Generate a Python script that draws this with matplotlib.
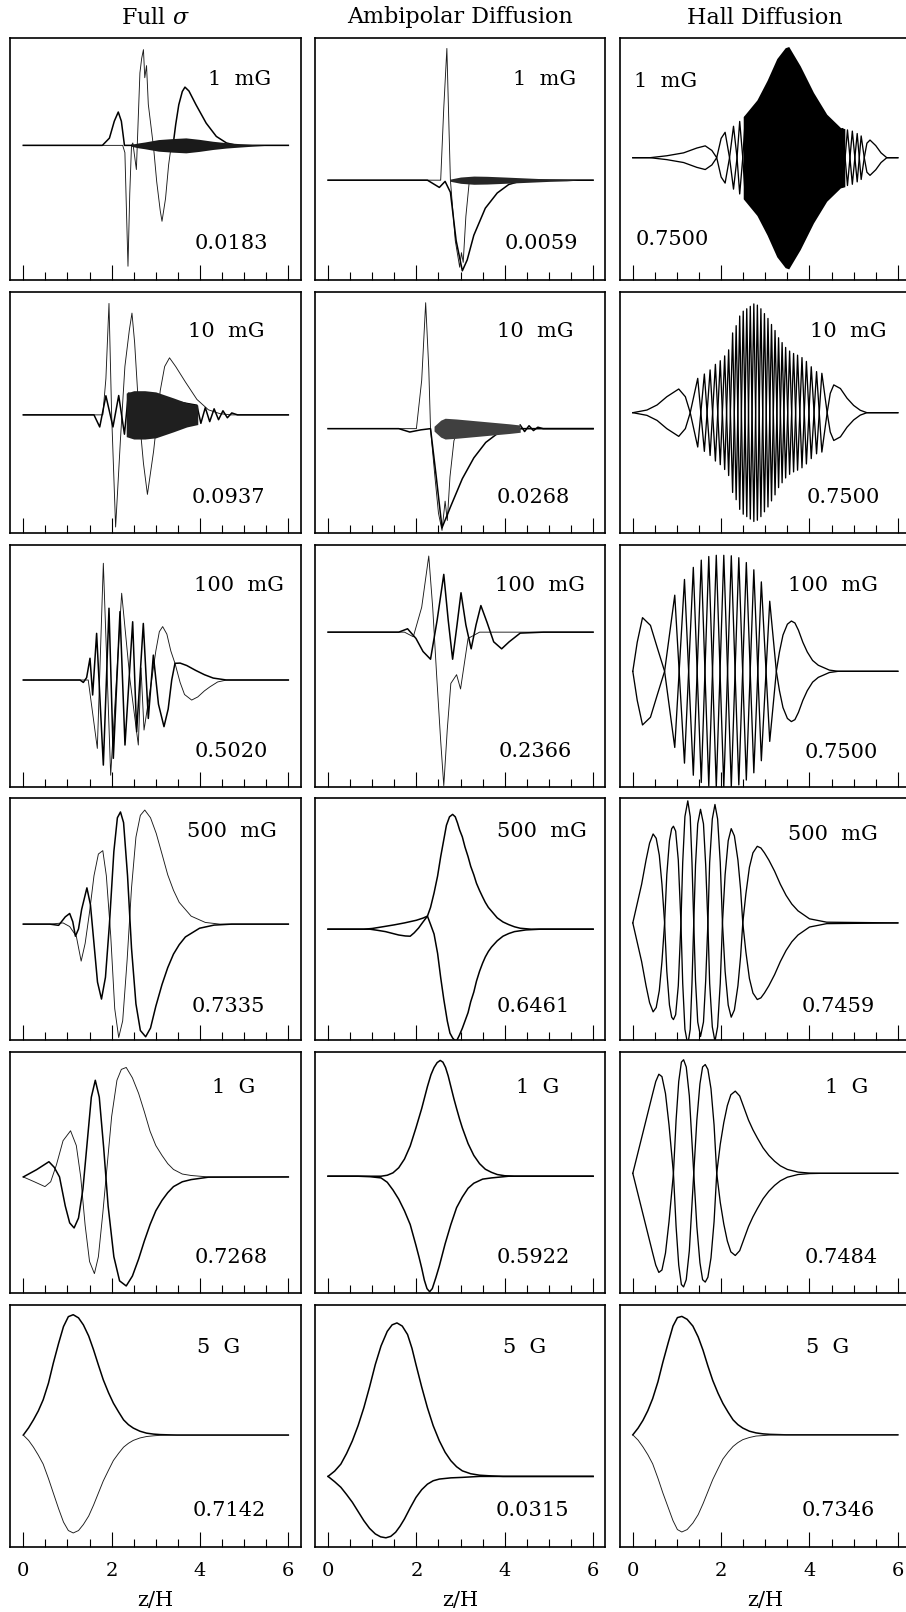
"""
Grid of mode profiles (6 field strengths x 3 diffusion regimes) versus z/H.

Each panel shows the two field components of the fastest growing mode,
the field strength and the growth rate.  Values were read off the
published figure, in units of the panel height above the midplane line.
"""
import matplotlib
matplotlib.use('Agg')  # Use non-interactive backend for script execution
import matplotlib.pyplot as plt
from matplotlib.ticker import MultipleLocator


COLUMN_TITLES = ["Full $\\sigma$", "Ambipolar Diffusion", "Hall Diffusion"]
FIELD_LABELS = ["1 mG", "10 mG", "100 mG", "500 mG", "1 G", "5 G"]
GROWTH_RATES = [
    ["0.0183", "0.0059", "0.7500"],
    ["0.0937", "0.0268", "0.7500"],
    ["0.5020", "0.2366", "0.7500"],
    ["0.7335", "0.6461", "0.7459"],
    ["0.7268", "0.5922", "0.7484"],
    ["0.7142", "0.0315", "0.7346"],
]
X_TICKS = [0, 2, 4, 6]

# ---- 1 mG ----
full_1mg_a_z = [0, 1.79, 1.95, 2.06, 2.15, 2.22, 2.29, 3.39, 3.45, 3.52, 3.6, 3.66, 3.75, 3.91, 4.14, 4.37, 4.6, 4.83, 6.0]
full_1mg_a_v = [0, 0, 0.03, 0.1, 0.138, 0.1, 0.0, 0.0, 0.086, 0.168, 0.223, 0.241, 0.225, 0.168, 0.092, 0.037, 0.01, 0, 0]
full_1mg_b_z = [0, 2.25, 2.3, 2.34, 2.37, 2.41, 2.45, 2.48, 2.56, 2.64, 2.68, 2.72, 2.75, 2.79, 2.83, 2.95, 3.02, 3.1, 3.14, 3.22, 3.29, 3.35, 6.0]
full_1mg_b_v = [0, 0, -0.03, -0.3, -0.5, -0.2, 0.0, 0.01, -0.1, 0.3, 0.36, 0.396, 0.28, 0.33, 0.17, -0.01, -0.15, -0.27, -0.314, -0.22, -0.08, 0, 0]
full_1mg_band_z = [2.45, 2.6, 2.75, 3.06, 3.37, 3.68, 3.98, 4.29, 4.6, 4.9, 5.22, 5.5]
full_1mg_band_amp = [0.004, 0.01, 0.014, 0.024, 0.028, 0.031, 0.025, 0.017, 0.011, 0.007, 0.003, 0.0]

amb_1mg_s_z = [0, 2.25, 2.52, 2.65, 2.77, 2.9, 3.04, 3.15, 3.3, 3.56, 3.83, 4.09, 4.35, 4.6, 6]
amb_1mg_s_v = [0, 0, -0.03, -0.005, -0.05, -0.25, -0.375, -0.33, -0.228, -0.116, -0.053, -0.018, -0.004, 0, 0]
amb_1mg_d_z = [0, 2.55, 2.62, 2.69, 2.74, 2.77, 2.88, 2.98, 3.02, 3.06, 3.12, 3.2, 6]
amb_1mg_d_v = [0, 0, 0.3, 0.545, 0.2, 0.0, -0.25, -0.36, -0.3, -0.34, -0.15, 0, 0]
amb_1mg_band_z = [2.75, 3.0, 3.3, 3.6, 4.0, 4.5, 5.0, 5.4, 5.65]
amb_1mg_band_amp = [0.004, 0.013, 0.017, 0.016, 0.013, 0.009, 0.005, 0.003, 0.0]

hall_1mg_left_z = [0, 0.39, 0.77, 1.15, 1.45, 1.64, 1.79, 1.9, 2.0, 2.09, 2.19, 2.28, 2.36, 2.42, 2.49, 2.55]
hall_1mg_left_v = [0, 0, 0.008, 0.02, 0.04, 0.049, 0.03, 0, 0.08, 0.105, 0, -0.13, 0, 0.15, 0, -0.17]
hall_1mg_right_z = [4.75, 4.86, 4.97, 5.08, 5.17, 5.24, 5.3, 5.37, 5.5, 5.62, 5.75, 6.0]
hall_1mg_right_v = [0.12, -0.115, 0.11, -0.1, 0.09, 0, -0.06, -0.073, -0.05, -0.02, 0, 0]
hall_1mg_env_z = [2.5, 2.81, 3.04, 3.26, 3.45, 3.53, 3.79, 4.09, 4.39, 4.7, 4.8]
hall_1mg_env_amp = [0.17, 0.239, 0.32, 0.41, 0.455, 0.46, 0.38, 0.27, 0.18, 0.125, 0.12]

# ---- 10 mG ----
full_10mg_d_z = [0, 1.8, 1.87, 1.94, 2.0, 2.09, 2.2, 2.3, 2.4, 2.46, 2.52, 2.62, 2.72, 2.81, 2.95, 3.1, 3.2, 3.31, 3.45, 3.67, 3.93, 4.19, 4.45, 4.7, 6]
full_10mg_d_v = [0, 0, 0.15, 0.461, 0.0, -0.464, -0.1, 0.2, 0.35, 0.421, 0.3, 0.0, -0.2, -0.329, -0.15, 0.1, 0.2, 0.236, 0.2, 0.136, 0.064, 0.021, 0.005, 0, 0]
full_10mg_s_z = [0, 1.4, 1.6, 1.73, 1.87, 2.03, 2.16, 2.29, 2.38, 3.93, 4.02, 4.12, 4.22, 4.32, 4.42, 4.52, 4.62, 4.72, 4.85, 6]
full_10mg_s_v = [0, 0, 0.0, -0.05, 0.079, -0.05, 0.08, -0.08, 0.09, 0.04, -0.035, 0.03, -0.028, 0.025, -0.02, 0.017, -0.012, 0.008, 0, 0]
full_10mg_band_z = [2.33, 2.5, 2.75, 3.0, 3.4, 3.7, 3.95]
full_10mg_band_amp = [0.09, 0.1, 0.1, 0.095, 0.07, 0.05, 0.04]

amb_10mg_d_z = [0, 2.0, 2.12, 2.21, 2.28, 2.32, 2.42, 2.5, 2.58, 2.65, 2.7, 2.76, 2.85, 2.95, 6]
amb_10mg_d_v = [0, 0, 0.2, 0.521, 0.25, 0.0, -0.2, -0.35, -0.421, -0.3, -0.38, -0.2, -0.05, 0, 0]
amb_10mg_s_z = [0, 1.6, 1.85, 2.1, 2.32, 2.45, 2.58, 2.78, 3.04, 3.3, 3.57, 3.83, 4.09, 4.4, 6]
amb_10mg_s_v = [0, 0, -0.014, -0.005, 0, -0.2, -0.41, -0.32, -0.207, -0.121, -0.057, -0.021, -0.007, 0, 0]
amb_10mg_band_z = [2.4, 2.55, 2.65, 2.9, 3.2, 3.5, 3.8, 4.1, 4.35]
amb_10mg_band_amp = [0.01, 0.035, 0.043, 0.04, 0.035, 0.03, 0.025, 0.02, 0.015]
amb_10mg_tail_z = [4.35, 4.45, 4.55, 4.65, 4.75, 4.87, 6]
amb_10mg_tail_v = [0.015, -0.012, 0.012, -0.008, 0.006, 0, 0]

hall_10mg_z = [0, 0.32, 0.55, 0.77, 1.04, 1.19, 1.3,
               1.47, 1.62, 1.75, 1.87, 1.98, 2.08, 2.17, 2.26, 2.34, 2.42, 2.5, 2.58, 2.66, 2.74, 2.82, 2.9,
               2.98, 3.06, 3.14, 3.22, 3.3, 3.38, 3.46, 3.55, 3.64, 3.73, 3.83, 3.93, 4.04, 4.16, 4.28,
               4.4, 4.47, 4.55, 4.7, 4.85, 5.0, 5.15, 5.3, 6]
hall_10mg_v = [0, 0.011, 0.032, 0.066, 0.098, 0.066, 0,
               -0.142, 0.16, -0.177, 0.2, -0.215, 0.235, -0.26, 0.33, -0.36, 0.4, -0.42, 0.43, -0.44, 0.45, -0.445, 0.43,
               -0.41, 0.39, -0.365, 0.34, -0.31, 0.29, -0.27, 0.255, -0.245, 0.238, -0.228, 0.212, -0.19, 0.17, -0.163,
               0, 0.08, 0.115, 0.1, 0.06, 0.03, 0.01, 0, 0]

# ---- 100 mG ----
full_100mg_a_z = [0, 1.283, 1.359, 1.434, 1.51, 1.57, 1.66, 1.812, 1.94, 2.038, 2.189, 2.302, 2.476, 2.566, 2.717, 2.83, 2.944, 3.06, 3.185, 3.28, 3.36, 3.434, 3.55, 3.7, 3.9, 4.1, 4.3, 4.6, 6]
full_100mg_a_v = [0, 0, -0.01, 0.01, 0.09, -0.062, 0.193, -0.352, 0.297, -0.324, 0.283, -0.269, 0.241, -0.214, 0.234, -0.159, 0.103, -0.1, -0.193, -0.12, 0.0, 0.069, 0.07, 0.06, 0.04, 0.022, 0.008, 0, 0]
full_100mg_b_z = [0, 1.47, 1.676, 1.812, 1.978, 2.227, 2.416, 2.604, 2.665, 2.733, 2.906, 3.0, 3.08, 3.155, 3.25, 3.34, 3.434, 3.55, 3.65, 3.812, 3.95, 4.1, 4.227, 4.4, 4.604, 6]
full_100mg_b_v = [0, 0, -0.283, 0.483, -0.394, 0.359, 0.0, -0.269, 0.05, -0.207, 0.0, 0.12, 0.2, 0.221, 0.19, 0.12, 0.069, -0.01, -0.06, -0.083, -0.07, -0.045, -0.028, -0.008, 0, 0]

amb_100mg_s_z = [0, 1.6, 1.8, 1.99, 2.15, 2.32, 2.47, 2.62, 2.72, 2.82, 2.92, 3.01, 3.12, 3.24, 3.35, 3.46, 3.6, 3.75, 3.93, 4.1, 4.35, 4.88, 6]
amb_100mg_s_v = [0, 0, 0.014, -0.026, -0.08, -0.112, 0.05, 0.239, 0.05, -0.112, 0.03, 0.163, 0.03, -0.069, 0.03, 0.110, 0.04, -0.04, -0.069, -0.04, -0.004, 0, 0]
amb_100mg_d_z = [0, 1.73, 1.93, 2.12, 2.28, 2.37, 2.46, 2.55, 2.62, 2.7, 2.78, 2.91, 3.0, 3.17, 3.43, 6]
amb_100mg_d_v = [0, 0, -0.019, 0.103, 0.315, 0.1, -0.183, -0.45, -0.635, -0.4, -0.212, -0.176, -0.235, -0.026, 0, 0]

hall_100mg_z = [0, 0.1, 0.22, 0.4, 0.55, 0.72, 0.95, 1.17, 1.37, 1.55, 1.72, 1.89, 2.06, 2.23, 2.4, 2.57, 2.74, 2.91, 3.1,
                3.25, 3.32, 3.4, 3.5, 3.59, 3.67, 3.75, 3.85, 3.95, 4.07, 4.2, 4.45, 4.65, 6]
hall_100mg_v = [0, 0.12, 0.222, 0.19, 0.1, 0, -0.315, 0.38, -0.43, 0.46, -0.475, 0.48, -0.48, 0.478, -0.47, 0.45, -0.42, 0.37, -0.29,
                0, 0.08, 0.15, 0.195, 0.208, 0.2, 0.17, 0.12, 0.08, 0.045, 0.025, 0.005, 0, 0]

# ---- 500 mG ----
full_500mg_s_z = [0, 0.6, 0.8, 0.95, 1.05, 1.12, 1.18, 1.25, 1.32, 1.44, 1.52, 1.6, 1.68, 1.77, 1.86, 1.95, 2.05, 2.13, 2.2, 2.27, 2.36, 2.45, 2.55, 2.65, 2.77, 2.88, 3.0, 3.14, 3.27, 3.4, 3.53, 3.67, 3.99, 4.32, 4.72, 6]
full_500mg_s_v = [0, 0, -0.005, 0.03, 0.044, 0.01, -0.05, -0.02, 0.06, 0.15, 0.08, -0.08, -0.24, -0.31, -0.22, 0.0, 0.3, 0.44, 0.464, 0.42, 0.2, -0.1, -0.33, -0.44, -0.466, -0.43, -0.34, -0.25, -0.18, -0.124, -0.085, -0.053, -0.017, -0.004, 0, 0]
full_500mg_d_z = [0, 0.6, 0.9, 1.05, 1.2, 1.31, 1.4, 1.5, 1.6, 1.7, 1.8, 1.88, 1.98, 2.07, 2.16, 2.25, 2.35, 2.45, 2.55, 2.65, 2.75, 2.88, 3.01, 3.14, 3.27, 3.4, 3.53, 3.8, 4.12, 4.45, 6]
full_500mg_d_v = [0, 0, 0.005, -0.01, -0.05, -0.153, -0.08, 0.05, 0.2, 0.29, 0.304, 0.2, -0.05, -0.35, -0.469, -0.4, -0.15, 0.15, 0.36, 0.45, 0.472, 0.44, 0.375, 0.29, 0.204, 0.14, 0.09, 0.033, 0.007, 0, 0]

amb_500mg_u_z = [0, 0.95, 1.1, 1.3, 1.45, 1.6, 1.75, 1.86, 1.95, 2.05, 2.15, 2.25, 2.32, 2.4, 2.48, 2.55, 2.62, 2.68, 2.75,
                 2.82, 2.88, 2.93, 2.98, 3.04, 3.1, 3.17, 3.23, 3.3, 3.36, 3.43, 3.5, 3.56, 3.63, 3.7, 3.83, 3.96, 4.09,
                 4.22, 4.35, 4.6, 6]
amb_500mg_u_v = [0, 0, -0.004, -0.01, -0.017, -0.024, -0.028, -0.029, -0.015, 0.005, 0.03, 0.054, 0.09, 0.15, 0.22, 0.3, 0.37, 0.43, 0.465,
                 0.475, 0.465, 0.44, 0.41, 0.382, 0.34, 0.3, 0.26, 0.225, 0.19, 0.16, 0.133, 0.111, 0.09, 0.075, 0.047, 0.03, 0.019,
                 0.01, 0.004, 0, 0]
amb_500mg_l_z = [0, 0.81, 1.0, 1.27, 1.5, 1.73, 2.0, 2.15, 2.25, 2.32, 2.4, 2.48, 2.55, 2.62, 2.7, 2.76, 2.82, 2.87, 2.91,
                 2.97, 3.04, 3.1, 3.17, 3.23, 3.3, 3.36, 3.43, 3.5, 3.56, 3.63, 3.7, 3.83, 3.96, 4.09, 4.22, 4.48, 4.8, 6]
amb_500mg_l_v = [0, 0, 0.003, 0.011, 0.018, 0.026, 0.037, 0.046, 0.054, 0.02, -0.02, -0.1, -0.2, -0.29, -0.38, -0.43, -0.45, -0.46, -0.462,
                 -0.44, -0.41, -0.38, -0.345, -0.3, -0.26, -0.215, -0.174, -0.14, -0.115, -0.092, -0.074, -0.048, -0.029, -0.018,
                 -0.01, -0.003, 0, 0]

hall_500mg_z = [0, 0.1, 0.2, 0.3, 0.38, 0.46, 0.53, 0.6, 0.66, 0.72,
                0.77, 0.83, 0.88, 0.92, 0.97, 1.03, 1.09,
                1.13, 1.18, 1.245, 1.3, 1.34, 1.38,
                1.42, 1.47, 1.533, 1.6, 1.65, 1.7,
                1.74, 1.8, 1.86, 1.92, 1.98, 2.03,
                2.09, 2.16, 2.228, 2.3, 2.38, 2.44, 2.49,
                2.56, 2.64, 2.72, 2.818, 2.9, 2.98, 3.08, 3.21, 3.34, 3.47, 3.6, 3.74, 4.0, 4.39, 6]
hall_500mg_v = [0, 0.08, 0.16, 0.26, 0.33, 0.368, 0.35, 0.28, 0.16, 0,
                -0.2, -0.34, -0.39, -0.4, -0.38, -0.26, 0,
                0.25, 0.44, 0.505, 0.44, 0.25, 0,
                -0.24, -0.41, -0.47, -0.41, -0.24, 0,
                0.25, 0.43, 0.49, 0.43, 0.25, 0,
                -0.2, -0.34, -0.39, -0.36, -0.26, -0.14, 0,
                0.12, 0.23, 0.29, 0.317, 0.31, 0.29, 0.26, 0.214, 0.16, 0.114, 0.078, 0.05, 0.017, 0.003, 0]

# ---- 1 G ----
full_1g_s_z = [0, 0.3, 0.58, 0.7, 0.82, 0.95, 1.05, 1.15, 1.25, 1.35, 1.45, 1.54, 1.63, 1.72, 1.82, 1.92, 2.05, 2.18, 2.33, 2.47, 2.61, 2.74, 2.87, 3.0, 3.14, 3.27, 3.4, 3.6, 3.8, 4.19, 6]
full_1g_s_v = [0, 0.03, 0.063, 0.04, 0.0, -0.12, -0.19, -0.211, -0.17, -0.05, 0.15, 0.33, 0.4, 0.33, 0.12, -0.12, -0.33, -0.43, -0.451, -0.41, -0.34, -0.265, -0.197, -0.14, -0.097, -0.065, -0.04, -0.02, -0.011, -0.001, 0]
full_1g_d_z = [0, 0.25, 0.49, 0.62, 0.75, 0.9, 1.07, 1.2, 1.3, 1.4, 1.5, 1.61, 1.7, 1.8, 1.9, 2.0, 2.12, 2.22, 2.33, 2.47, 2.61, 2.74, 2.87, 3.0, 3.14, 3.27, 3.4, 3.6, 3.8, 4.19, 6]
full_1g_d_v = [0, -0.02, -0.04, -0.02, 0.05, 0.15, 0.191, 0.13, 0.0, -0.2, -0.35, -0.4, -0.33, -0.15, 0.05, 0.25, 0.4, 0.445, 0.453, 0.41, 0.346, 0.27, 0.189, 0.13, 0.089, 0.055, 0.031, 0.012, 0.006, 0, 0]

amb_1g_u_z = [0, 1.2, 1.34, 1.47, 1.6, 1.73, 1.86, 1.99, 2.12, 2.25, 2.33, 2.4, 2.47, 2.54, 2.6, 2.66, 2.72, 2.78, 2.85,
              2.91, 2.98, 3.04, 3.17, 3.3, 3.43, 3.56, 3.7, 3.83, 4.0, 4.22, 6]
amb_1g_u_v = [0, 0, 0.004, 0.014, 0.035, 0.071, 0.125, 0.2, 0.28, 0.371, 0.42, 0.45, 0.47, 0.479, 0.472, 0.45, 0.415, 0.371, 0.32,
              0.28, 0.235, 0.2, 0.135, 0.086, 0.052, 0.029, 0.016, 0.007, 0.002, 0, 0]
amb_1g_l_z = [0, 0.68, 0.95, 1.2, 1.34, 1.47, 1.6, 1.73, 1.86, 1.99, 2.06, 2.12, 2.18, 2.24, 2.3, 2.36, 2.44, 2.52, 2.65,
              2.78, 2.91, 3.04, 3.17, 3.3, 3.5, 3.7, 4.09, 6]
amb_1g_l_v = [0, 0, -0.002, -0.007, -0.025, -0.057, -0.095, -0.143, -0.2, -0.286, -0.335, -0.38, -0.43, -0.465, -0.478, -0.465, -0.42, -0.371, -0.28,
              -0.2, -0.13, -0.086, -0.05, -0.029, -0.012, -0.007, 0, 0]

hall_1g_z = [0, 0.15, 0.3, 0.45, 0.52, 0.59, 0.66, 0.74, 0.82, 0.92,
             0.98, 1.04, 1.1, 1.15, 1.21, 1.28, 1.38,
             1.45, 1.52, 1.58, 1.64, 1.7, 1.77, 1.84, 1.9,
             1.98, 2.06, 2.14, 2.22, 2.32, 2.42, 2.52, 2.62, 2.72, 2.82, 2.95, 3.08, 3.21, 3.34, 3.5, 3.74, 4.0, 4.26, 6]
hall_1g_v = [0, 0.11, 0.22, 0.33, 0.38, 0.41, 0.4, 0.33, 0.2, 0,
             -0.22, -0.38, -0.46, -0.47, -0.44, -0.32, 0,
             0.22, 0.37, 0.44, 0.45, 0.43, 0.35, 0.2, 0,
             -0.12, -0.21, -0.28, -0.325, -0.34, -0.32, -0.27, -0.22, -0.18, -0.146, -0.105, -0.074, -0.05, -0.031, -0.016, -0.005, -0.001, 0, 0]

# ---- 5 G ----
full_5g_z = [0, 0.12, 0.23, 0.34, 0.45, 0.57, 0.68, 0.8, 0.91, 1.02, 1.13, 1.25, 1.36, 1.48, 1.59, 1.7, 1.81, 1.93,
             2.04, 2.16, 2.27, 2.38, 2.49, 2.64, 2.79, 2.95, 3.1, 3.47, 6]
full_5g_top = [0, 0.03, 0.063, 0.1, 0.146, 0.215, 0.298, 0.38, 0.449, 0.49, 0.498, 0.485, 0.456, 0.41, 0.353, 0.29, 0.229, 0.175,
               0.132, 0.095, 0.063, 0.043, 0.029, 0.016, 0.008, 0.004, 0.002, 0, 0]
full_5g_bot = [0, -0.022, -0.05, -0.083, -0.12, -0.18, -0.24, -0.305, -0.36, -0.395, -0.405, -0.395, -0.37, -0.335, -0.29, -0.24, -0.19, -0.145,
               -0.105, -0.075, -0.05, -0.034, -0.022, -0.012, -0.006, -0.003, -0.001, 0, 0]

amb_5g_u_z = [0, 0.15, 0.29, 0.42, 0.55, 0.68, 0.81, 0.94, 1.07, 1.2, 1.34, 1.45, 1.56, 1.68, 1.8, 1.9, 1.99, 2.12, 2.25,
              2.38, 2.52, 2.65, 2.78, 2.91, 3.04, 3.23, 3.43, 3.7, 3.96, 6]
amb_5g_u_v = [0, 0.022, 0.051, 0.095, 0.147, 0.21, 0.284, 0.37, 0.463, 0.54, 0.6, 0.627, 0.635, 0.622, 0.587, 0.53, 0.463, 0.37, 0.284,
              0.21, 0.147, 0.1, 0.065, 0.04, 0.023, 0.011, 0.005, 0.002, 0, 0]
amb_5g_l_z = [0, 0.15, 0.29, 0.42, 0.55, 0.68, 0.81, 0.94, 1.07, 1.19, 1.31, 1.42, 1.53, 1.63, 1.73, 1.86, 1.99, 2.12,
              2.25, 2.38, 2.52, 2.78, 3.04, 3.43, 6]
amb_5g_l_v = [0, -0.022, -0.045, -0.075, -0.107, -0.145, -0.183, -0.215, -0.238, -0.25, -0.254, -0.248, -0.231, -0.206, -0.176, -0.13, -0.087, -0.055,
              -0.032, -0.018, -0.011, -0.006, -0.004, 0, 0]

hall_5g_z = [0, 0.12, 0.23, 0.34, 0.45, 0.57, 0.68, 0.8, 0.91, 1.01, 1.11, 1.23, 1.36, 1.48, 1.59, 1.7, 1.81, 1.93,
             2.04, 2.16, 2.27, 2.38, 2.49, 2.64, 2.79, 2.95, 3.1, 3.47, 6]
hall_5g_top = [0, 0.028, 0.06, 0.1, 0.15, 0.22, 0.3, 0.38, 0.45, 0.485, 0.49, 0.478, 0.45, 0.405, 0.35, 0.285, 0.225, 0.172,
               0.13, 0.093, 0.062, 0.042, 0.028, 0.015, 0.008, 0.004, 0.002, 0, 0]
hall_5g_bot = [0, -0.022, -0.05, -0.082, -0.12, -0.18, -0.24, -0.3, -0.355, -0.392, -0.402, -0.392, -0.365, -0.33, -0.285, -0.235, -0.185, -0.14,
               -0.1, -0.071, -0.048, -0.032, -0.02, -0.011, -0.005, -0.003, -0.001, 0, 0]


# Layout, in pixels of the 906 x 1612 output
FIG_W, FIG_H = 906, 1612
PANEL_W, PANEL_H = 290.7, 241.7
COL_LEFT = [10, 314.75, 619.5]
ROW_TOP = [38.3 + 253.3 * r for r in range(6)]
X_LIMITS = (-0.301, 6.28)
# height of the zero line inside each panel (fraction of panel height)
BASELINE = [
    [0.557, 0.413, 0.506],
    [0.490, 0.433, 0.499],
    [0.441, 0.639, 0.477],
    [0.479, 0.458, 0.484],
    [0.481, 0.484, 0.496],
    [0.461, 0.290, 0.462],
]
FIELD_POS = [
    [(0.79, 0.83), (0.79, 0.83), (0.16, 0.82)],
    [(0.745, 0.836), (0.757, 0.836), (0.787, 0.836)],
    [(0.786, 0.83), (0.775, 0.83), (0.735, 0.83)],
    [(0.762, 0.864), (0.782, 0.864), (0.735, 0.85)],
    [(0.769, 0.853), (0.768, 0.853), (0.78, 0.853)],
    [(0.719, 0.825), (0.721, 0.825), (0.717, 0.825)],
]
RATE_POS = [
    [(0.762, 0.15), (0.778, 0.15), (0.18, 0.166)],
    [(0.751, 0.147), (0.75, 0.147), (0.77, 0.147)],
    [(0.762, 0.147), (0.757, 0.147), (0.762, 0.14)],
    [(0.751, 0.14), (0.75, 0.14), (0.752, 0.14)],
    [(0.762, 0.147), (0.753, 0.147), (0.762, 0.147)],
    [(0.755, 0.15), (0.75, 0.15), (0.752, 0.15)],
]

THICK = dict(color="black", lw=1.1)
THIN = dict(color="0.1", lw=0.65)


def build_panels():
    """Collect the curve arrays of every panel, row by row."""
    return [
        [
            {"lines": [(full_1mg_b_z, full_1mg_b_v, THIN), (full_1mg_a_z, full_1mg_a_v, THICK)],
             "bands": [(full_1mg_band_z, full_1mg_band_amp, "0.1")]},
            {"lines": [(amb_1mg_d_z, amb_1mg_d_v, THIN), (amb_1mg_s_z, amb_1mg_s_v, THICK)],
             "bands": [(amb_1mg_band_z, amb_1mg_band_amp, "0.15")]},
            {"mirror": [(hall_1mg_left_z, hall_1mg_left_v), (hall_1mg_right_z, hall_1mg_right_v)],
             "bands": [(hall_1mg_env_z, hall_1mg_env_amp, "black")]},
        ],
        [
            {"lines": [(full_10mg_d_z, full_10mg_d_v, THIN), (full_10mg_s_z, full_10mg_s_v, THICK)],
             "bands": [(full_10mg_band_z, full_10mg_band_amp, "0.12")]},
            {"lines": [(amb_10mg_d_z, amb_10mg_d_v, THIN), (amb_10mg_s_z, amb_10mg_s_v, THICK),
                       (amb_10mg_tail_z, amb_10mg_tail_v, THICK)],
             "bands": [(amb_10mg_band_z, amb_10mg_band_amp, "0.25")]},
            {"mirror": [(hall_10mg_z, hall_10mg_v)]},
        ],
        [
            {"lines": [(full_100mg_b_z, full_100mg_b_v, THIN), (full_100mg_a_z, full_100mg_a_v, THICK)]},
            {"lines": [(amb_100mg_d_z, amb_100mg_d_v, THIN), (amb_100mg_s_z, amb_100mg_s_v, THICK)]},
            {"mirror": [(hall_100mg_z, hall_100mg_v)]},
        ],
        [
            {"lines": [(full_500mg_d_z, full_500mg_d_v, THIN), (full_500mg_s_z, full_500mg_s_v, THICK)]},
            {"lines": [(amb_500mg_u_z, amb_500mg_u_v, THICK), (amb_500mg_l_z, amb_500mg_l_v, THICK)]},
            {"mirror": [(hall_500mg_z, hall_500mg_v)]},
        ],
        [
            {"lines": [(full_1g_d_z, full_1g_d_v, THIN), (full_1g_s_z, full_1g_s_v, THICK)]},
            {"lines": [(amb_1g_u_z, amb_1g_u_v, THICK), (amb_1g_l_z, amb_1g_l_v, THICK)]},
            {"mirror": [(hall_1g_z, hall_1g_v)]},
        ],
        [
            {"lines": [(full_5g_z, full_5g_top, THICK), (full_5g_z, full_5g_bot, THIN)]},
            {"lines": [(amb_5g_u_z, amb_5g_u_v, THICK), (amb_5g_l_z, amb_5g_l_v, THICK)]},
            {"lines": [(hall_5g_z, hall_5g_top, THICK), (hall_5g_z, hall_5g_bot, THIN)]},
        ],
    ]


def draw_panel(ax, panel, base, bottom_row):
    for z, amp, color in panel.get("bands", []):
        ax.fill_between(z, [-a for a in amp], amp, color=color, lw=0, zorder=3)
    for z, v, style in panel.get("lines", []):
        ax.plot(z, v, zorder=2, **style)
    for z, v in panel.get("mirror", []):
        ax.plot(z, v, color="black", lw=0.95, zorder=2)
        ax.plot(z, [-x for x in v], color="black", lw=0.95, zorder=2)

    ax.set_xlim(*X_LIMITS)
    ax.set_ylim(-base, 1 - base)
    ax.set_yticks([])
    ax.set_xticks(X_TICKS)
    ax.xaxis.set_minor_locator(MultipleLocator(0.5))
    ax.tick_params(axis="x", which="major", direction="in", length=10.8, width=0.8,
                   labelsize=14, pad=11, labelbottom=bottom_row)
    ax.tick_params(axis="x", which="minor", direction="in", length=5.8, width=0.8)
    for spine in ax.spines.values():
        spine.set_linewidth(1.2)


def main():
    plt.rcParams["font.family"] = ["DejaVu Serif"]
    plt.rcParams["mathtext.fontset"] = "dejavuserif"

    fig = plt.figure(figsize=(FIG_W / 100, FIG_H / 100), dpi=100)
    panels = build_panels()

    for r, row in enumerate(panels):
        for c, panel in enumerate(row):
            left = COL_LEFT[c] / FIG_W
            bottom = (FIG_H - ROW_TOP[r] - PANEL_H) / FIG_H
            ax = fig.add_axes([left, bottom, PANEL_W / FIG_W, PANEL_H / FIG_H])
            draw_panel(ax, panel, BASELINE[r][c], r == len(panels) - 1)
            fx, fy = FIELD_POS[r][c]
            ax.text(fx, fy, FIELD_LABELS[r].replace(" ", "  "), transform=ax.transAxes,
                    ha="center", va="center", fontsize=15)
            gx, gy = RATE_POS[r][c]
            ax.text(gx, gy, GROWTH_RATES[r][c], transform=ax.transAxes,
                    ha="center", va="center", fontsize=15)

    for c, title in enumerate(COLUMN_TITLES):
        cx = (COL_LEFT[c] + PANEL_W / 2) / FIG_W
        fig.text(cx, 1 - 17.5 / FIG_H, title, ha="center", va="center", fontsize=16)
        fig.text(cx, 1 - 1600 / FIG_H, "z/H", ha="center", va="center", fontsize=15)

    fig.savefig("out.png", dpi=100)
    plt.close(fig)


if __name__ == "__main__":
    main()
